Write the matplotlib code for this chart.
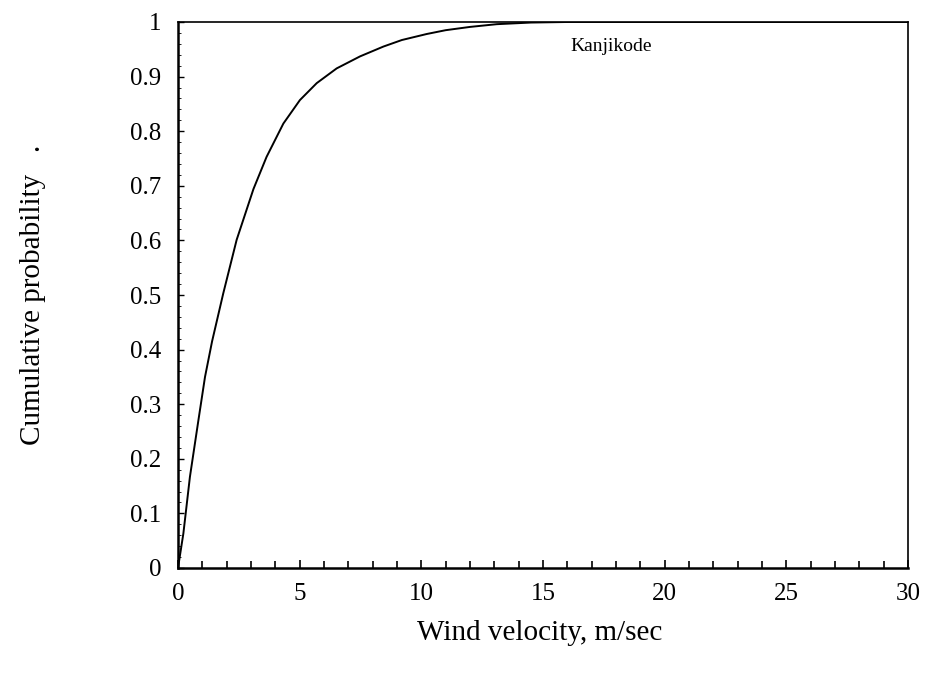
import matplotlib.pyplot as plt
import numpy as np

# wind velocity (m/sec) and cumulative probability
velocity = [0, 0.22, 0.49, 0.84, 1.11, 1.40, 1.86, 2.41, 3.10, 3.64, 4.33,
            5.01, 5.70, 6.52, 7.48, 8.44, 9.2, 10.22, 11.0, 12.0, 13.1,
            14.5, 16.0, 20.0, 25.0, 30.0]
probability = [0, 0.063, 0.167, 0.271, 0.350, 0.415, 0.503, 0.601, 0.694,
               0.753, 0.814, 0.857, 0.888, 0.915, 0.937, 0.955, 0.967,
               0.978, 0.985, 0.991, 0.996, 0.999, 1.0, 1.0, 1.0, 1.0]

site = 'Kanjikode'
x_ticks = [0, 5, 10, 15, 20, 25, 30]
y_ticks = [0, 0.1, 0.2, 0.3, 0.4, 0.5, 0.6, 0.7, 0.8, 0.9, 1]
y_labels = ['0', '0.1', '0.2', '0.3', '0.4', '0.5', '0.6', '0.7', '0.8', '0.9', '1']

plt.rcParams['font.family'] = ['Liberation Serif', 'DejaVu Serif']

fig = plt.figure(figsize=(9.29, 6.79), dpi=100)
ax = fig.add_axes([178 / 929, 1 - 568 / 679, 730 / 929, 546 / 679])

ax.plot(velocity, probability, color='black', lw=1.4)

ax.set_xlim(0, 30)
ax.set_ylim(0, 1)
ax.set_xticks(x_ticks)
ax.set_yticks(y_ticks)
ax.set_yticklabels(y_labels)
ax.set_xticks(np.arange(0, 31, 1), minor=True)
ax.set_yticks(np.arange(0, 1.001, 0.02), minor=True)

ax.tick_params(axis='x', which='major', direction='in', length=6, width=1.2,
               labelsize=18, pad=11)
ax.tick_params(axis='x', which='minor', direction='in', length=5, width=1.2)
ax.tick_params(axis='y', which='major', direction='in', length=4, width=1,
               labelsize=18, pad=12)
ax.tick_params(axis='y', which='minor', direction='in', length=2, width=0.6)

for side in ['left', 'bottom']:
    ax.spines[side].set_linewidth(1.8)
for side in ['top', 'right']:
    ax.spines[side].set_linewidth(1.2)

ax.text(0.537, 0.955, site, transform=ax.transAxes, fontsize=14,
        ha='left', va='center')

ax.set_xlabel('Wind velocity, m/sec', fontsize=21, va='center')
ax.xaxis.set_label_coords(0.496, -0.119)
ax.set_ylabel('Cumulative probability   .', fontsize=21, va='center')
ax.yaxis.set_label_coords(-0.199, 0.5)

fig.savefig('out.png', dpi=100, facecolor='white')
